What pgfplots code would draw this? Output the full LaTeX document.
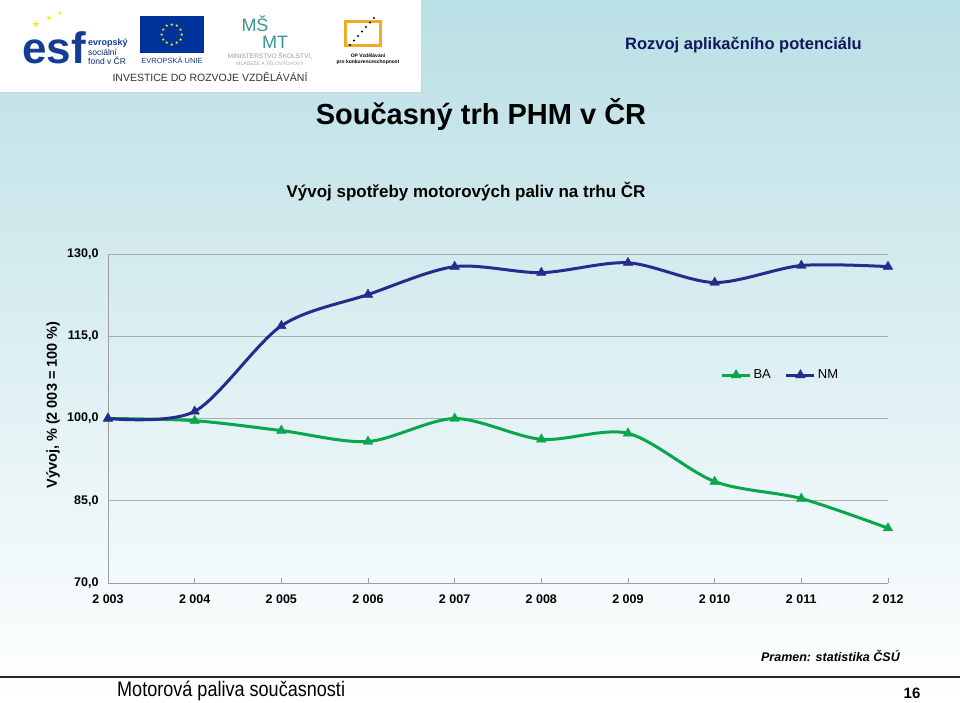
\documentclass[border=0pt]{standalone}
\usepackage{fontspec}
\setmainfont{Liberation Sans}
\newfontfamily\djv{DejaVu Sans}
\usepackage{graphicx}
\usepackage{pgfplots}
\pgfplotsset{compat=1.18}
\definecolor{ba}{RGB}{10,166,78}
\definecolor{nm}{RGB}{38,44,140}
\definecolor{bgtop}{RGB}{186,223,229}
\definecolor{navyt}{RGB}{15,25,95}
\definecolor{esfblue}{RGB}{20,60,150}
\definecolor{eublue}{RGB}{0,51,153}
\definecolor{msmt}{RGB}{60,150,150}
\definecolor{oporange}{RGB}{240,170,40}
\newcommand\fs[1]{\fontsize{#1}{#1}\selectfont}
\begin{document}
\begin{tikzpicture}[x=1pt,y=1pt]
\path[use as bounding box] (0,0) rectangle (960,-703);
\shade[top color=bgtop, bottom color=white] (0,0) rectangle (960,-703);
% logo box
\fill[white] (0,0) rectangle (421,-92);
\draw[gray!35] (421,0) -- (421,-92) -- (0,-92);
% esf
\node[anchor=west, text=esfblue, font=\bfseries\fs{44}, inner sep=0] at (22,-48) {esf};
\node[text=yellow!90!orange, font=\djv\fs{9}, inner sep=0] at (36,-24) {★};
\node[text=yellow!90!orange, font=\djv\fs{7}, inner sep=0] at (49,-18) {★};
\node[text=yellow!90!orange, font=\djv\fs{6}, inner sep=0] at (60,-13) {★};
\node[anchor=west, text=esfblue, font=\bfseries\fs{9}, inner sep=0] at (88,-43) {evropský};
\node[anchor=west, text=esfblue!70!black, font=\fs{8.5}, inner sep=0] at (88,-52) {sociální};
\node[anchor=west, text=esfblue!70!black, font=\fs{8.5}, inner sep=0] at (88,-61) {fond v ČR};
% EU
\fill[eublue] (140,-16) rectangle (204,-53);
\foreach \a in {0,30,...,330} \node[text=yellow, font=\djv\fs{4.5}, inner sep=0] at ({172+10*cos(\a)},{-34.5+10*sin(\a)}) {★};
\node[text=esfblue, font=\fs{7.5}, inner sep=0] at (172,-60) {EVROPSKÁ UNIE};
% MSMT
\node[text=msmt, font=\fs{18}, inner sep=0] at (255,-24) {MŠ};
\node[text=msmt, font=\fs{18}, inner sep=0] at (275,-42) {MT};
\node[text=gray!80, font=\fs{6.5}, inner sep=0] at (270,-56) {MINISTERSTVO ŠKOLSTVÍ,};
\node[text=gray!70, font=\fs{5}, inner sep=0] at (270,-63) {MLÁDEŽE A TĚLOVÝCHOVY};
% OP
\draw[oporange, line width=3] (345,-22) rectangle (380,-46);
\foreach \i in {0,...,6} \fill[black] ({350+4*\i},{-45+4.5*\i}) circle (1.2);
\node[font=\bfseries\fs{5}, inner sep=0] at (368,-56) {OP Vzdělávání};
\node[font=\bfseries\fs{5}, inner sep=0] at (368,-62) {pro konkurenceschopnost};
\node[text=black!80, font=\fs{10.5}, inner sep=0] at (210,-77) {INVESTICE DO ROZVOJE VZDĚLÁVÁNÍ};
% titles
\node[anchor=west, font=\bfseries\fs{16.5}, text=navyt, inner sep=0] at (625,-45) {Rozvoj aplikačního potenciálu};
\node[font=\bfseries\fs{29}, inner sep=0] at (481,-115) {Současný trh PHM v ČR};
\node[font=\bfseries\fs{17}, inner sep=0] at (466,-192) {Vývoj spotřeby motorových paliv na trhu ČR};
% chart
\begin{axis}[at={(108pt,-583pt)}, anchor=south west, scale only axis,
  width=780pt, height=329pt,
  xmin=2003, xmax=2012, ymin=70, ymax=130,
  xtick={2003,...,2012},
  xticklabels={2 003,2 004,2 005,2 006,2 007,2 008,2 009,2 010,2 011,2 012},
  ytick={70,85,100,115,130},
  yticklabels={{70,0},{85,0},{100,0},{115,0},{130,0}},
  axis x line*=bottom, axis y line*=left,
  axis line style={gray!75, line width=1pt, -},
  ymajorgrids, major grid style={gray!65, line width=0.9pt},
  ytick style={draw=none},
  xtick style={gray!75, line width=0.8pt},
  tick align=inside, major tick length=5pt,
  tick label style={font=\bfseries\fs{12.5}},
  xticklabel style={yshift=-8pt},
  yticklabel style={xshift=-6pt},
  ylabel={Vývoj, \% (2 003 = 100 \%)},
  ylabel style={font=\bfseries\fs{14.5}, at={(axis description cs:-0.0705,0.541)}, anchor=center},
  legend style={at={(0.862,0.632)}, anchor=center, draw=none, fill=none,
    legend columns=2, font=\fs{13},
    /tikz/every even column/.append style={column sep=12pt}},
  legend image code/.code={\draw[mark repeat=2,mark phase=2] plot coordinates {(0pt,0pt)(14pt,0pt)(28pt,0pt)};},
]
\addplot[ba, line width=3pt, smooth, tension=0.5, mark=triangle*, mark size=5.5pt, mark options={solid, line width=0.4pt}]
 coordinates {(2003,100.0)(2004,99.6)(2005,97.8)(2006,95.8)(2007,100.0)(2008,96.2)(2009,97.3)(2010,88.5)(2011,85.4)(2012,80.0)};
\addlegendentry{BA}
\addplot[nm, line width=3pt, smooth, tension=0.5, mark=triangle*, mark size=5.5pt, mark options={solid, line width=0.4pt}]
 coordinates {(2003,100.0)(2004,101.3)(2005,116.9)(2006,122.6)(2007,127.7)(2008,126.6)(2009,128.4)(2010,124.8)(2011,127.9)(2012,127.7)};
\addlegendentry{NM}
\end{axis}
% source & footer
\node[anchor=east, font=\bfseries\itshape\fs{12.5}, inner sep=0] at (900,-656) {Pramen: statistika ČSÚ};
\draw[black!85, line width=2.5] (0,-677) -- (960,-677);
\node[anchor=west, inner sep=0] at (117,-691) {\scalebox{0.86}[1]{\fs{21}Motorová paliva současnosti}};
\node[font=\bfseries\fs{15}, inner sep=0] at (912,-693) {16};
\end{tikzpicture}
\end{document}
